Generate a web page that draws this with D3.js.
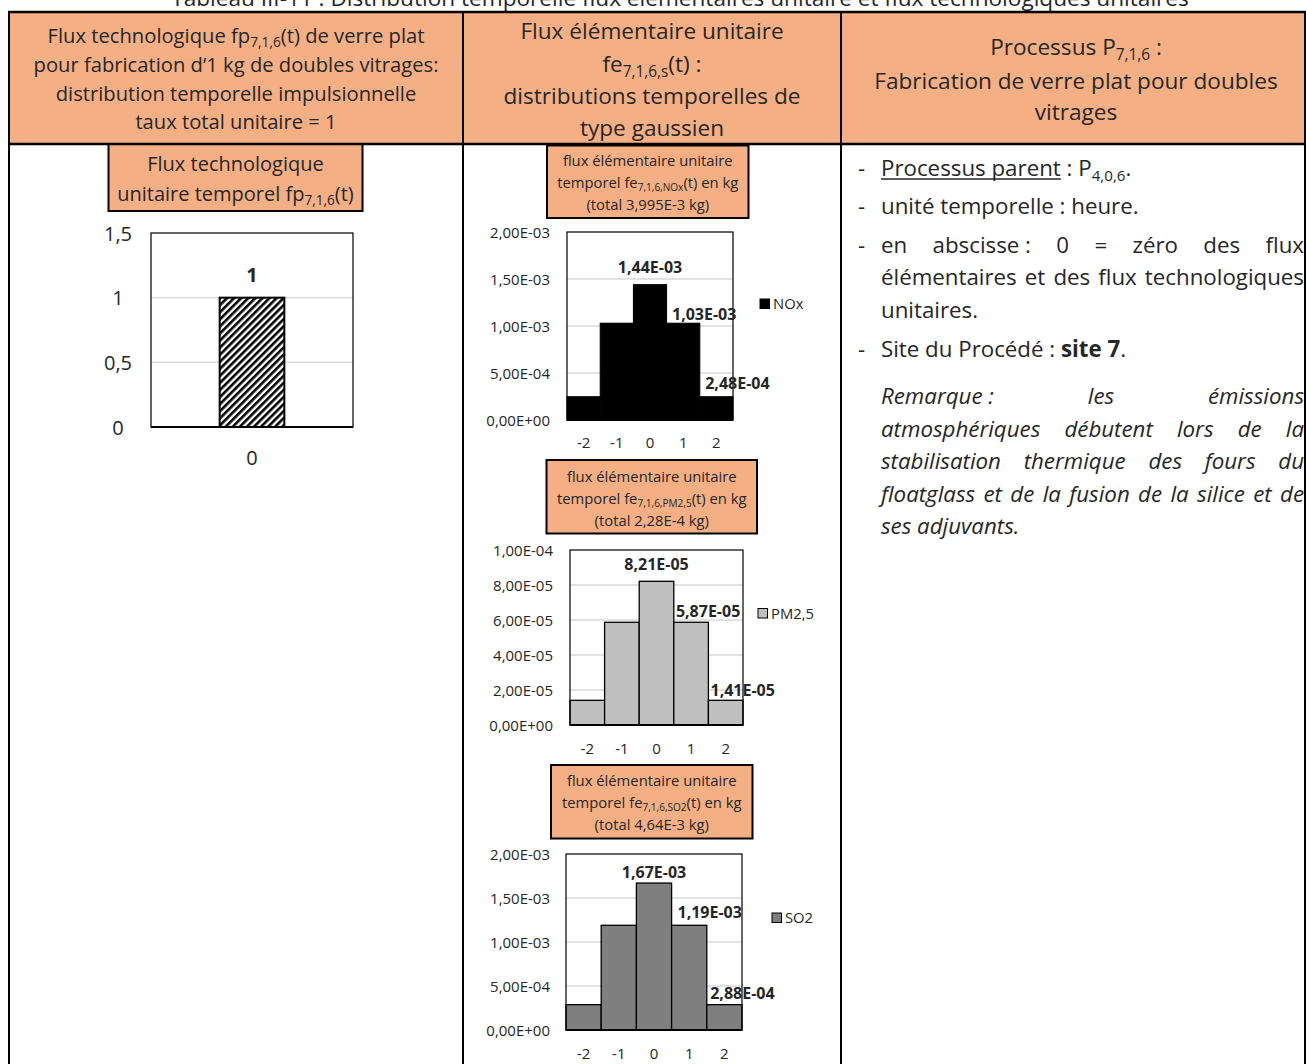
<!DOCTYPE html>
<html><head><meta charset="utf-8">
<script src="https://cdn.jsdelivr.net/npm/d3@7"></script>
<style>
body{margin:0;background:#fff;overflow:hidden;}
svg text{font-family:"Open Sans","Noto Sans",sans-serif;fill:#262626;}
</style></head><body>
<svg id="c" width="1306" height="1064"></svg>
<script>
// ---------------- DATA ----------------
const tableTitle = "Tableau III-11 : Distribution temporelle flux élémentaires unitaire et flux technologiques unitaires";
const fpCategories = ["0"];
const fpValues = [1];
const fpTicks = [0, 0.5, 1, 1.5];
const timeSteps = ["-2", "-1", "0", "1", "2"];
const noxValues = [2.48e-4, 1.03e-3, 1.44e-3, 1.03e-3, 2.48e-4];
const pm25Values = [1.41e-5, 5.87e-5, 8.21e-5, 5.87e-5, 1.41e-5];
const so2Values = [2.88e-4, 1.19e-3, 1.67e-3, 1.19e-3, 2.88e-4];
const noxTicks = [0, 5e-4, 1e-3, 1.5e-3, 2e-3];
const pm25Ticks = [0, 2e-5, 4e-5, 6e-5, 8e-5, 1e-4];
const so2Ticks = [0, 5e-4, 1e-3, 1.5e-3, 2e-3];
const seriesNames = ["NOx", "PM2,5", "SO2"];
const seriesTotals = ["3,995E-3", "2,28E-4", "4,64E-3"];
const seriesSubs = ["7,1,6,NOx", "7,1,6,PM2,5", "7,1,6,SO2"];

// ---------------- HELPERS ----------------
const svg = d3.select("#c");
const salmon = "#F4B084";
const ink = "#262626";

function sci(v) {
  const s = d3.format(".2e")(v);
  const [m, e] = s.split("e");
  const sign = e[0] === "-" ? "-" : "+";
  return m.replace(".", ",") + "E" + sign + String(Math.abs(+e)).padStart(2, "0");
}
function dec(v) { return String(v).replace(".", ","); }

// rich text: segments [{t, sub}]
function rich(g, x, y, segs, size, anchor) {
  const t = g.append("text").attr("x", x).attr("y", y)
    .attr("text-anchor", anchor || "middle").style("font-size", size + "px");
  if (typeof segs === "string") segs = [{ t: segs }];
  let shifted = false;
  segs.forEach(s => {
    const ts = t.append("tspan").text(s.t);
    if (s.sub) {
      ts.style("font-size", (size * 0.68) + "px").attr("dy", size * 0.22);
      shifted = true;
    } else if (shifted) {
      ts.attr("dy", -size * 0.22); shifted = false;
    }
    if (s.bold) ts.style("font-weight", "bold");
  });
  return t;
}

// ---------------- TABLE ----------------
svg.append("text").attr("x", 680).attr("y", 5.5).attr("text-anchor", "middle")
  .style("font-size", "22.6px").text(tableTitle);

const colX = [9, 463, 841, 1305];
const headTop = 12, headBot = 144;
svg.append("rect").attr("x", colX[0]).attr("y", headTop).attr("width", colX[3] - colX[0]).attr("height", headBot - headTop).attr("fill", salmon);

// header texts
const h1 = [
  [{ t: "Flux technologique fp" }, { t: "7,1,6", sub: 1 }, { t: "(t) de verre plat" }],
  "pour fabrication d’1 kg de doubles vitrages:",
  "distribution temporelle impulsionnelle",
  "taux total unitaire = 1"
];
const h1y = [43, 72, 101, 129];
h1.forEach((l, i) => rich(svg, (colX[0] + colX[1]) / 2, h1y[i], l, 20.2));
const h2 = [
  "Flux élémentaire unitaire",
  [{ t: "fe" }, { t: "7,1,6,s", sub: 1 }, { t: "(t) :" }],
  "distributions temporelles de",
  "type gaussien"
];
const h2y = [39, 72, 104, 136];
h2.forEach((l, i) => rich(svg, 652, h2y[i], l, 22.6));
const h3 = [
  [{ t: "Processus P" }, { t: "7,1,6", sub: 1 }, { t: "\u00a0:" }],
  "Fabrication de verre plat pour doubles",
  "vitrages"
];
const h3y = [55, 89, 120];
h3.forEach((l, i) => rich(svg, 1076, h3y[i], l, 22.6));

// ---------------- CHARTS ----------------
const defs = svg.append("defs");
const pat = defs.append("pattern").attr("id", "hatch").attr("patternUnits", "userSpaceOnUse")
  .attr("width", 5).attr("height", 5).attr("patternTransform", "rotate(45)");
pat.append("rect").attr("width", 5).attr("height", 5).attr("fill", "#fff");
pat.append("rect").attr("width", 2.6).attr("height", 5).attr("fill", "#000");

function titleBox(b, lines, ys, size) {
  svg.append("rect").attr("x", b.x0).attr("y", b.y0).attr("width", b.x1 - b.x0).attr("height", b.y1 - b.y0)
    .attr("fill", salmon).attr("stroke", "#000").attr("stroke-width", 2);
  lines.forEach((l, i) => rich(svg, (b.x0 + b.x1) / 2, ys[i], l, size));
}

function barChart(o) {
  const g = svg.append("g");
  const x = d3.scaleBand().domain(o.categories).range([o.left, o.right])
    .paddingInner(o.pad).paddingOuter(o.pad);
  const y = d3.scaleLinear().domain([0, o.ticks[o.ticks.length - 1]]).range([o.bottom, o.top]);
  // grid
  g.selectAll(".grid").data(o.ticks.slice(1, -1)).join("line")
    .attr("x1", o.left).attr("x2", o.right).attr("y1", d => y(d)).attr("y2", d => y(d))
    .attr("stroke", "#D9D9D9").attr("stroke-width", 1.5);
  // bars
  g.selectAll(".bar").data(o.values).join("rect")
    .attr("x", (d, i) => x(o.categories[i])).attr("width", x.bandwidth())
    .attr("y", d => y(d)).attr("height", d => y(0) - y(d))
    .attr("fill", o.fill).attr("stroke", "#000").attr("stroke-width", o.barStroke);
  // plot border
  g.append("rect").attr("x", o.left).attr("y", o.top).attr("width", o.right - o.left).attr("height", o.bottom - o.top)
    .attr("fill", "none").attr("stroke", "#000").attr("stroke-width", 1.2);
  g.append("line").attr("x1", o.left).attr("x2", o.right).attr("y1", o.bottom).attr("y2", o.bottom)
    .attr("stroke", "#000").attr("stroke-width", 2.2);
  // y axis
  const ya = g.append("g").attr("transform", `translate(${o.left},0)`)
    .call(d3.axisLeft(y).tickValues(o.ticks).tickSize(0).tickPadding(o.yPad).tickFormat(o.fmt));
  ya.select(".domain").remove();
  ya.selectAll("text").style("font-size", o.tickSize + "px").style("font-family", null).attr("fill", ink)
    .attr("dy", "0.35em");
  if (o.yAnchor) ya.selectAll("text").attr("text-anchor", o.yAnchor).attr("x", -o.yPad);
  // x axis
  const xa = g.append("g").attr("transform", `translate(0,${o.bottom})`)
    .call(d3.axisBottom(x).tickSize(0).tickPadding(0));
  xa.select(".domain").remove();
  xa.selectAll("text").style("font-size", o.xTickSize + "px").style("font-family", null).attr("fill", ink)
    .attr("y", o.xPad).attr("dy", "0.35em");
  // data labels
  o.labels.forEach(l => {
    const v = o.values[l.i];
    g.append("text").attr("x", x(o.categories[l.i]) + x.bandwidth() / 2 + l.dx)
      .attr("y", y(v) + l.dy).attr("dy", "0.35em").attr("text-anchor", "middle")
      .style("font-size", o.labelSize + "px").style("font-weight", "bold").attr("fill", "#000")
      .text(o.labelFmt(v));
  });
  // legend
  if (o.legend) {
    g.append("rect").attr("x", o.legend.x).attr("y", o.legend.y).attr("width", 9.5).attr("height", 9.5)
      .attr("fill", o.fill).attr("stroke", "#000").attr("stroke-width", 1);
    g.append("text").attr("x", o.legend.x + 13).attr("y", o.legend.y + 5).attr("dy", "0.35em")
      .style("font-size", "14.8px").text(o.legend.name);
  }
}

// left chart
titleBox({ x0: 108.5, y0: 144, x1: 362.5, y1: 211 },
  ["Flux technologique", [{ t: "unitaire temporel fp" }, { t: "7,1,6", sub: 1 }, { t: "(t)" }]], [171, 201], 20);
barChart({
  categories: fpCategories, values: fpValues, ticks: fpTicks, fmt: dec, labelFmt: dec,
  left: 151, right: 353, top: 233, bottom: 427, pad: 0.515,
  fill: "url(#hatch)", barStroke: 2, yPad: 33, yAnchor: "middle", tickSize: 20, xTickSize: 20, xPad: 31,
  labelSize: 20, labels: [{ i: 0, dx: 0, dy: -23 }]
});

function feTitle(k) {
  return ["flux élémentaire unitaire",
    [{ t: "temporel fe" }, { t: seriesSubs[k], sub: 1 }, { t: "(t) en kg" }],
    "(total " + seriesTotals[k] + " kg)"];
}

// NOx
titleBox({ x0: 547, y0: 145.5, x1: 748.5, y1: 218 }, feTitle(0), [166, 188, 210], 14.8);
barChart({
  categories: timeSteps, values: noxValues, ticks: noxTicks, fmt: sci, labelFmt: sci,
  left: 567, right: 733, top: 232, bottom: 420, pad: 0,
  fill: "#000", barStroke: 1, yPad: 17, tickSize: 15, xTickSize: 15, xPad: 23, labelSize: 16,
  labels: [{ i: 2, dx: 0, dy: -17 }, { i: 3, dx: 21, dy: -9 }, { i: 4, dx: 21, dy: -13 }],
  legend: { x: 760, y: 299, name: seriesNames[0] }
});

// PM2.5
titleBox({ x0: 546.5, y0: 460, x1: 757, y1: 533.5 }, feTitle(1), [482, 504, 526], 14.8);
barChart({
  categories: timeSteps, values: pm25Values, ticks: pm25Ticks, fmt: sci, labelFmt: sci,
  left: 570, right: 743, top: 550, bottom: 725, pad: 0,
  fill: "#BFBFBF", barStroke: 1.3, yPad: 17, tickSize: 15, xTickSize: 15, xPad: 24, labelSize: 16,
  labels: [{ i: 2, dx: 0, dy: -17 }, { i: 3, dx: 17, dy: -11 }, { i: 4, dx: 17, dy: -10 }],
  legend: { x: 758, y: 608.5, name: seriesNames[1] }
});

// SO2
titleBox({ x0: 551, y0: 765, x1: 752.5, y1: 838.5 }, feTitle(2), [786, 808, 830], 14.8);
barChart({
  categories: timeSteps, values: so2Values, ticks: so2Ticks, fmt: sci, labelFmt: sci,
  left: 566, right: 742, top: 854, bottom: 1030, pad: 0,
  fill: "#7F7F7F", barStroke: 1.3, yPad: 16, tickSize: 15, xTickSize: 15, xPad: 24, labelSize: 16,
  labels: [{ i: 2, dx: 0, dy: -11 }, { i: 3, dx: 20.5, dy: -13 }, { i: 4, dx: 18, dy: -11 }],
  legend: { x: 772, y: 913, name: seriesNames[2] }
});

// ---------------- RIGHT COLUMN TEXT ----------------
const rs = 22.3, tx = 881, tr = 1304, dashX = 858;
function plain(x, y, s, italic) {
  const t = svg.append("text").attr("x", x).attr("y", y).style("font-size", rs + "px").text(s);
  if (italic) t.style("font-style", "italic");
  return t;
}
function justify(words, y, italic) {
  const nodes = words.map(w => plain(0, y, w, italic));
  const widths = nodes.map(n => n.node().getComputedTextLength());
  const gap = (tr - tx - d3.sum(widths)) / (words.length - 1);
  let x = tx;
  nodes.forEach((n, i) => { n.attr("x", x); x += widths[i] + gap; });
}
[176, 214, 253, 357].forEach(y => plain(dashX, y, "-"));
// line 1
const pp = plain(tx, 176, "Processus parent");
const ppw = pp.node().getComputedTextLength();
svg.append("line").attr("x1", tx).attr("x2", tx + ppw).attr("y1", 179).attr("y2", 179).attr("stroke", ink).attr("stroke-width", 1.4);
rich(svg, tx + ppw, 176, [{ t: "\u00a0: P" }, { t: "4,0,6", sub: 1 }, { t: "." }], rs, "start");
plain(tx, 214, "unité temporelle : heure.");
justify(["en", "abscisse\u00a0:", "0", "=", "zéro", "des", "flux"], 253);
justify(["élémentaires", "et", "des", "flux", "technologiques"], 285);
plain(tx, 318, "unitaires.");
rich(svg, tx, 357, [{ t: "Site du Procédé : " }, { t: "site 7", bold: 1 }, { t: "." }], rs, "start");
justify(["Remarque\u00a0:", "les", "émissions"], 404, true);
justify("atmosphériques débutent lors de la".split(" "), 437, true);
justify("stabilisation thermique des fours du".split(" "), 469, true);
justify("floatglass et de la fusion de la silice et de".split(" "), 502, true);
plain(tx, 534, "ses adjuvants.", true);

// ---------------- BORDERS ----------------
[headTop, headBot].forEach(yy => svg.append("line").attr("x1", colX[0] - 1).attr("x2", colX[3] + 1)
  .attr("y1", yy).attr("y2", yy).attr("stroke", "#000").attr("stroke-width", 2.4));
colX.forEach(xx => svg.append("line").attr("x1", xx).attr("x2", xx).attr("y1", headTop).attr("y2", 1064)
  .attr("stroke", "#000").attr("stroke-width", 2));
</script>
</body></html>
